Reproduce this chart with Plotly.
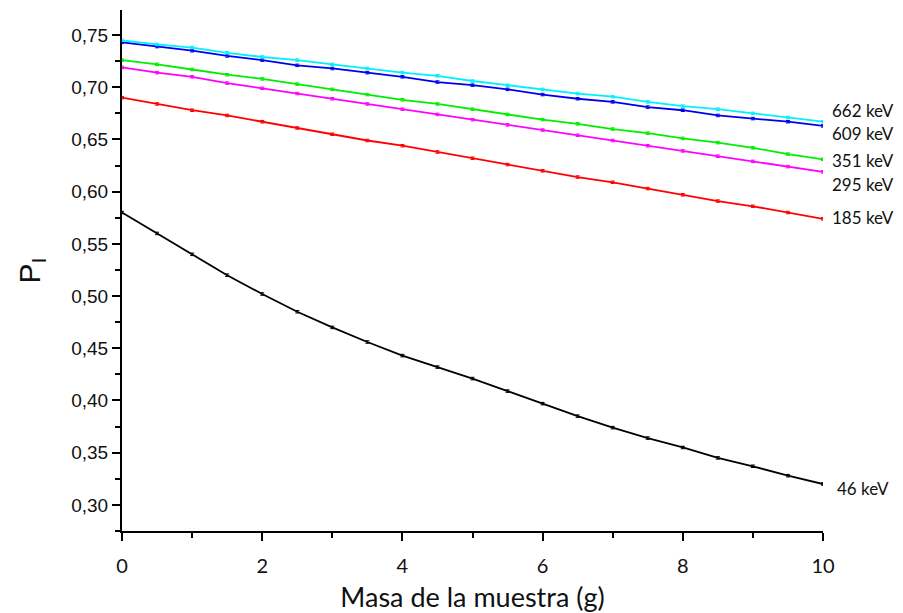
import plotly.graph_objects as go

mass = [0, 0.5, 1, 1.5, 2, 2.5, 3, 3.5, 4, 4.5, 5, 5.5, 6, 6.5, 7, 7.5, 8, 8.5, 9, 9.5, 10]

p_662 = [0.745, 0.741, 0.738, 0.733, 0.729, 0.726, 0.722, 0.718, 0.714, 0.711, 0.706, 0.702, 0.698, 0.694, 0.691, 0.686, 0.682, 0.679, 0.675, 0.671, 0.667]
p_609 = [0.743, 0.739, 0.735, 0.730, 0.726, 0.721, 0.718, 0.714, 0.710, 0.705, 0.702, 0.698, 0.693, 0.689, 0.686, 0.681, 0.678, 0.673, 0.670, 0.667, 0.663]
p_351 = [0.726, 0.722, 0.717, 0.712, 0.708, 0.703, 0.698, 0.693, 0.688, 0.684, 0.679, 0.674, 0.669, 0.665, 0.660, 0.656, 0.651, 0.647, 0.642, 0.636, 0.631]
p_295 = [0.719, 0.714, 0.710, 0.704, 0.699, 0.694, 0.689, 0.684, 0.679, 0.674, 0.669, 0.664, 0.659, 0.654, 0.649, 0.644, 0.639, 0.634, 0.629, 0.624, 0.619]
p_185 = [0.690, 0.684, 0.678, 0.673, 0.667, 0.661, 0.655, 0.649, 0.644, 0.638, 0.632, 0.626, 0.620, 0.614, 0.609, 0.603, 0.597, 0.591, 0.586, 0.580, 0.574]
p_46 = [0.580, 0.560, 0.540, 0.520, 0.502, 0.485, 0.470, 0.456, 0.443, 0.432, 0.421, 0.409, 0.397, 0.385, 0.374, 0.364, 0.355, 0.345, 0.337, 0.328, 0.320]

labels = ["662 keV", "609 keV", "351 keV", "295 keV", "185 keV", "46 keV"]
label_y = [0.678, 0.656, 0.630, 0.607, 0.575, 0.316]
colors = ["#00f0ff", "#0000ee", "#00ee00", "#ff00ff", "#ff0000", "#000000"]
series = [p_662, p_609, p_351, p_295, p_185, p_46]

fig = go.Figure()
for s, c in zip(series[::-1], colors[::-1]):
    fig.add_trace(go.Scatter(
        x=mass, y=s, mode="lines",
        line=dict(color=c, width=1.8),
        error_y=dict(type="constant", value=0.0012, thickness=1, width=2, color=c),
        showlegend=False,
    ))

for lab, ly in zip(labels, label_y):
    fig.add_annotation(
        x=1.01 if lab != "46 keV" else 1.017, xref="paper", y=ly, yref="y",
        text=lab, showarrow=False, xanchor="left", yanchor="middle",
        font=dict(family="Lato", size=17, color="#111"),
    )

fig.update_layout(
    width=903, height=613,
    margin=dict(l=122, r=80, t=10, b=82),
    plot_bgcolor="white", paper_bgcolor="white",
    separators=",.",
    xaxis=dict(
        range=[0, 10], showgrid=False, zeroline=False, automargin=False,
        showline=True, linecolor="black", linewidth=2,
        ticks="outside", ticklen=8, tickwidth=2, tickcolor="black",
        tick0=0, dtick=2, ticklabelstandoff=8,
        minor=dict(ticks="outside", ticklen=5, tickwidth=2, tickcolor="black", dtick=1),
        tickfont=dict(family="Lato", size=20, color="#111"),
        title=dict(text="Masa de la muestra (g)", standoff=14,
                   font=dict(family="Lato", size=27, color="#111")),
    ),
    yaxis=dict(
        range=[0.275, 0.774], showgrid=False, zeroline=False,
        showline=True, linecolor="black", linewidth=2,
        ticks="outside", ticklen=8, tickwidth=2, tickcolor="black",
        tick0=0.30, dtick=0.05, tickformat=".2f",
        minor=dict(ticks="outside", ticklen=5, tickwidth=2, tickcolor="black", dtick=0.025),
        tickfont=dict(family="Liberation Sans", size=19, color="#111"),
        title=dict(text="P<sub>I</sub>", standoff=22,
                   font=dict(family="Liberation Sans", size=30, color="#111")),
    ),
)

fig.write_html("out.html")
